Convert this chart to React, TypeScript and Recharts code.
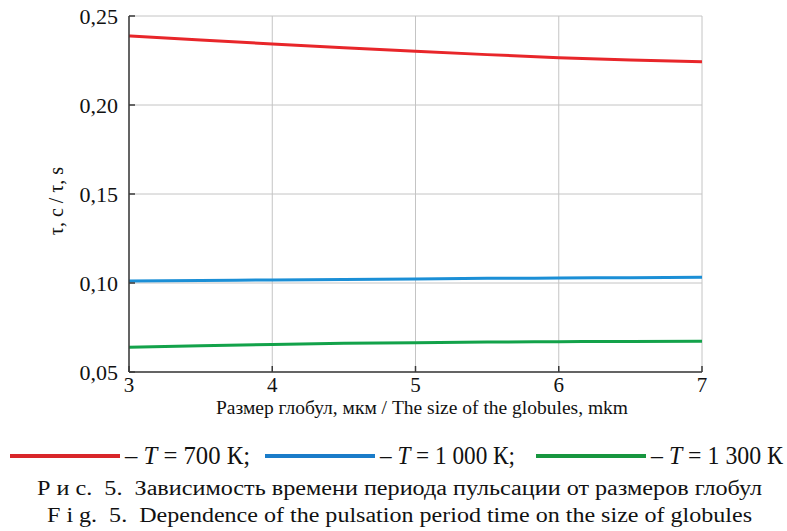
import React from 'react';
import { LineChart, Line, XAxis, YAxis, CartesianGrid } from 'recharts';

// Размер глобул, мкм
const sizes = [3, 3.5, 4, 4.5, 5, 5.5, 6, 6.5, 7];
// τ, s для трёх температур
const t700 = [0.2388, 0.2365, 0.2343, 0.2322, 0.2302, 0.2283, 0.2266, 0.2253, 0.2243];
const t1000 = [0.1011, 0.1014, 0.1017, 0.1020, 0.1023, 0.1026, 0.1028, 0.1030, 0.1032];
const t1300 = [0.0639, 0.0648, 0.0655, 0.0661, 0.0665, 0.0668, 0.0670, 0.0672, 0.0673];

const xTicks = [3, 4, 5, 6, 7];
const yTicks = [0.05, 0.1, 0.15, 0.2, 0.25];

const legendLabels = ['700 К;', '1 000 К;', '1 300 К'];
const legendColors = ['#d9262a', '#1a7cc9', '#17963f'];

const data = sizes.map((s, i) => ({ s, a: t700[i], b: t1000[i], c: t1300[i] }));

const FONT = '"Liberation Serif", "Times New Roman", serif';
const AXIS = '#3a3a3a';
const INK = '#111';

const fmt = (v: number) => v.toFixed(2).replace('.', ',');

const XTick = ({ x, y, payload }: any) => (
  <g>
    <line x1={x} y1={y} x2={x} y2={y - 6} stroke={AXIS} strokeWidth={1.5} />
    <text x={x} y={y + 20} textAnchor="middle" fontFamily={FONT} fontSize={21} fill={INK}>
      {payload.value}
    </text>
  </g>
);

const YTick = ({ x, y, payload }: any) => (
  <g>
    <line x1={x} y1={y} x2={x + 6} y2={y} stroke={AXIS} strokeWidth={1.5} />
    <text x={x - 11} y={y + 7.5} textAnchor="end" fontFamily={FONT} fontSize={22} fill={INK}>
      {fmt(payload.value)}
    </text>
  </g>
);

const RTick = ({ x, y }: any) => (
  <line x1={x} y1={y} x2={x - 6} y2={y} stroke={AXIS} strokeWidth={1.5} />
);

const YLabel = () => (
  <text
    x={0}
    y={0}
    transform="translate(63, 201) rotate(-90)"
    textAnchor="middle"
    fontFamily={FONT}
    fontSize={20}
    fill={INK}
  >
    τ, с / τ, s
  </text>
);

const XLabel = () => (
  <text x={422} y={414} textAnchor="middle" fontFamily={FONT} fontSize={19.5} fill={INK}>
    Размер глобул, мкм / The size of the globules, mkm
  </text>
);

// позиции легенды (линия, текст)
const legendX = [10, 265, 536];
const legendTextEnd = [250, 515, 783];

export default function App() {
  return (
    <div style={{ position: 'absolute', left: 0, top: 0, width: 787, height: 531, background: '#fff' }}>
      <LineChart width={787} height={430} data={data} margin={{ top: 16, right: 85, left: 0, bottom: 0 }}>
        <CartesianGrid stroke="#c4c4c4" strokeWidth={1} vertical horizontal />
        <XAxis
          dataKey="s"
          type="number"
          domain={[3, 7]}
          ticks={xTicks}
          height={58}
          tickSize={0}
          tickMargin={0}
          tickLine={false}
          axisLine={{ stroke: AXIS, strokeWidth: 1.5 }}
          tick={<XTick />}
          label={<XLabel />}
        />
        <XAxis
          xAxisId="top"
          orientation="top"
          dataKey="s"
          type="number"
          domain={[3, 7]}
          height={0}
          tick={false}
          tickLine={false}
          axisLine={{ stroke: AXIS, strokeWidth: 1.5 }}
        />
        <YAxis
          type="number"
          domain={[0.05, 0.25]}
          ticks={yTicks}
          width={129}
          tickSize={0}
          tickMargin={0}
          tickLine={false}
          axisLine={{ stroke: AXIS, strokeWidth: 1.5 }}
          tick={<YTick />}
          label={<YLabel />}
        />
        <YAxis
          yAxisId="r"
          orientation="right"
          type="number"
          domain={[0.05, 0.25]}
          ticks={yTicks}
          width={0}
          tickSize={0}
          tickMargin={0}
          tickLine={false}
          axisLine={{ stroke: AXIS, strokeWidth: 1.5 }}
          tick={<RTick />}
        />
        <Line dataKey="a" stroke="#e8262a" strokeWidth={3} dot={false} type="monotone" isAnimationActive={false} />
        <Line dataKey="b" stroke="#1b8fd6" strokeWidth={3} dot={false} type="monotone" isAnimationActive={false} />
        <Line dataKey="c" stroke="#13a24a" strokeWidth={3} dot={false} type="monotone" isAnimationActive={false} />
      </LineChart>
      <svg width={787} height={101} style={{ position: 'absolute', left: 0, top: 430 }}>
        {legendLabels.map((lab, i) => (
          <g key={lab}>
            <line x1={legendX[i]} x2={legendX[i] + 110} y1={26} y2={26} stroke={legendColors[i]} strokeWidth={4} />
            <text
              x={legendX[i] + 115}
              y={34}
              fontFamily={FONT}
              fontSize={25}
              fill={INK}
              textLength={legendTextEnd[i] - legendX[i] - 115}
              lengthAdjust="spacingAndGlyphs"
            >
              – <tspan fontStyle="italic">T</tspan> = {lab}
            </text>
          </g>
        ))}
        <text x={37} y={65} fontFamily={FONT} fontSize={20} fill={INK} textLength={725} lengthAdjust="spacingAndGlyphs" xmlSpace="preserve">
          Р и с.  5.  Зависимость времени периода пульсации от размеров глобул
        </text>
        <text x={47} y={92} fontFamily={FONT} fontSize={20} fill={INK} textLength={705} lengthAdjust="spacingAndGlyphs" xmlSpace="preserve">
          F i g.  5.  Dependence of the pulsation period time on the size of globules
        </text>
      </svg>
    </div>
  );
}
